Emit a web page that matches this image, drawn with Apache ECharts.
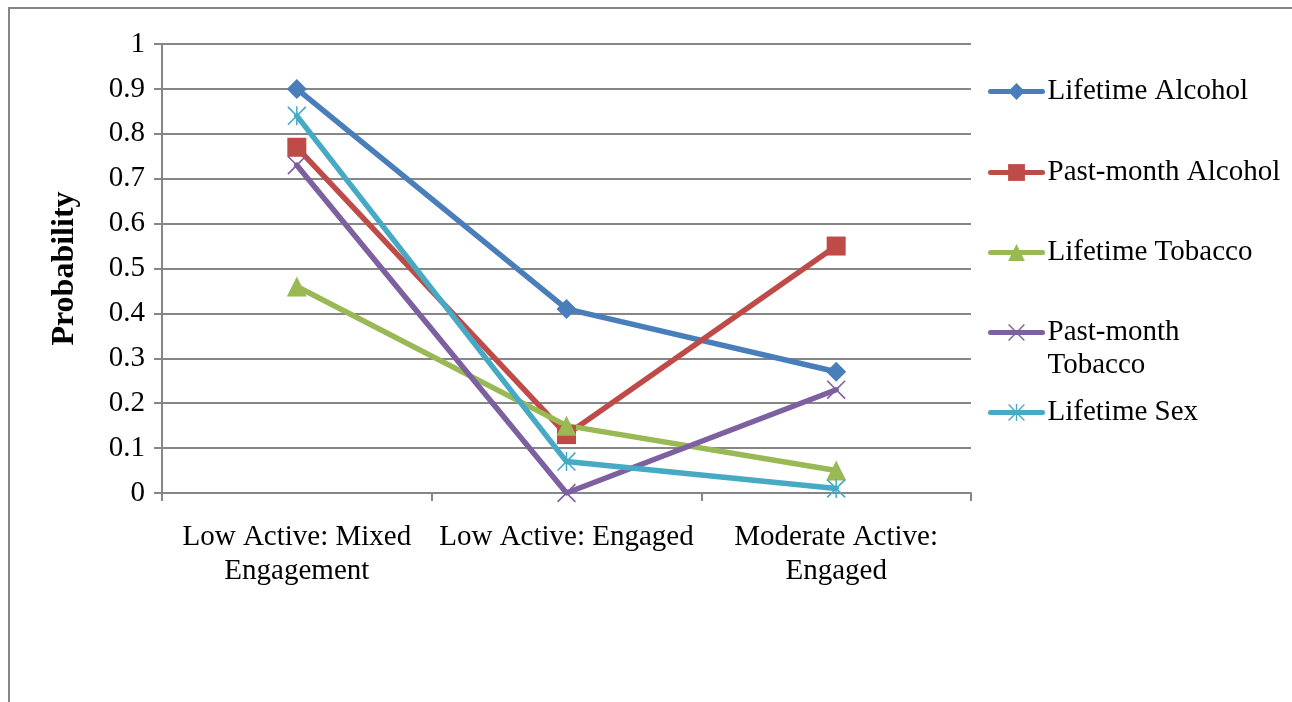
<!DOCTYPE html>
<html>
<head>
<meta charset="utf-8">
<title>Probability by class</title>
<script src="https://cdn.jsdelivr.net/npm/echarts@6/dist/echarts.min.js"></script>
<style>
  html, body { margin: 0; padding: 0; background: #ffffff; }
  #chart { width: 1292px; height: 702px; }
</style>
</head>
<body>
<div id="chart"></div>
<script>
// Latent classes along the x axis
const categories = ['Low Active: Mixed\nEngagement', 'Low Active: Engaged', 'Moderate Active:\nEngaged'];

// Probability of each behaviour per class
const lifetimeAlcohol   = [0.90, 0.41, 0.27];
const pastMonthAlcohol  = [0.77, 0.13, 0.55];
const lifetimeTobacco   = [0.46, 0.15, 0.05];
const pastMonthTobacco  = [0.73, 0.00, 0.23];
const lifetimeSex       = [0.84, 0.07, 0.01];

const seriesNames = ['Lifetime Alcohol', 'Past-month Alcohol', 'Lifetime Tobacco', 'Past-month Tobacco', 'Lifetime Sex'];
const seriesData = [lifetimeAlcohol, pastMonthAlcohol, lifetimeTobacco, pastMonthTobacco, lifetimeSex];

const FONT = '"Liberation Serif", "Times New Roman", serif';
const GRID_GRAY = '#868686';
const colors = ['#4A7EBB', '#BE4B48', '#98B954', '#7D60A0', '#46AAC5'];

// Thin-stroke marker shapes built as filled outlines
const crossPath = 'path://M0,6 L6,0 L100,94 L94,100 Z M94,0 L100,6 L6,100 L0,94 Z';
const starPath = 'path://M0,6 L6,0 L100,94 L94,100 Z M94,0 L100,6 L6,100 L0,94 Z M46,0 L54,0 L54,100 L46,100 Z';
const symbols = ['diamond', 'rect', 'triangle', crossPath, starPath];
const symbolSizes = [20, 19, 20, 19, 19];

const series = seriesNames.map((name, i) => ({
  name: name,
  type: 'line',
  data: seriesData[i],
  symbol: symbols[i],
  symbolSize: symbolSizes[i],
  showAllSymbol: true,
  lineStyle: { color: colors[i], width: 5.5, cap: 'round', join: 'round' },
  itemStyle: { color: colors[i] },
  emphasis: { disabled: true },
  animation: false
}));

// One legend block per series so that each entry can sit at its own row
const legendTops = [75, 156, 236, 283, 396];
const legends = seriesNames.map((name, i) => ({
  data: [name],
  orient: 'vertical',
  left: 988,
  top: legendTops[i],
  padding: 0,
  itemWidth: 52,
  itemHeight: 21,
  itemGap: 0,
  selectedMode: false,
  lineStyle: { width: 5, cap: 'round' },
  formatter: name === 'Past-month Tobacco' ? ' \nPast-month\nTobacco' : '{name}',
  textStyle: { fontFamily: FONT, fontSize: 29, color: '#000', lineHeight: 33, padding: 0 }
}));

const chart = echarts.init(document.getElementById('chart'), null, { renderer: 'canvas' });
chart.setOption({
  backgroundColor: '#ffffff',
  animation: false,
  color: colors,
  grid: { left: 162, right: 321, top: 44, bottom: 209, containLabel: false },
  legend: legends,
  xAxis: {
    type: 'category',
    data: categories,
    boundaryGap: true,
    axisLine: { lineStyle: { color: GRID_GRAY, width: 2 } },
    axisTick: { show: true, length: 8, interval: 0, lineStyle: { color: GRID_GRAY, width: 2 } },
    axisLabel: { interval: 0, margin: 27, fontFamily: FONT, fontSize: 29, lineHeight: 34, color: '#000' },
    splitLine: { show: false }
  },
  yAxis: {
    type: 'value',
    min: 0,
    max: 1,
    interval: 0.1,
    name: 'Probability',
    nameLocation: 'middle',
    nameRotate: 90,
    nameGap: 81,
    nameTextStyle: { fontFamily: FONT, fontSize: 32, fontWeight: 'bold', color: '#000' },
    axisLine: { show: true, lineStyle: { color: GRID_GRAY, width: 2 } },
    axisTick: { show: true, length: 8, lineStyle: { color: GRID_GRAY, width: 2 } },
    axisLabel: { margin: 17, fontFamily: FONT, fontSize: 29, color: '#000' },
    splitLine: { show: true, lineStyle: { color: GRID_GRAY, width: 2 } }
  },
  graphic: [{
    type: 'rect',
    silent: true,
    z: -1,
    shape: { x: 9, y: 8, width: 1400, height: 800 },
    style: { fill: 'none', stroke: GRID_GRAY, lineWidth: 2 }
  }],
  series: series
});
</script>
</body>
</html>
